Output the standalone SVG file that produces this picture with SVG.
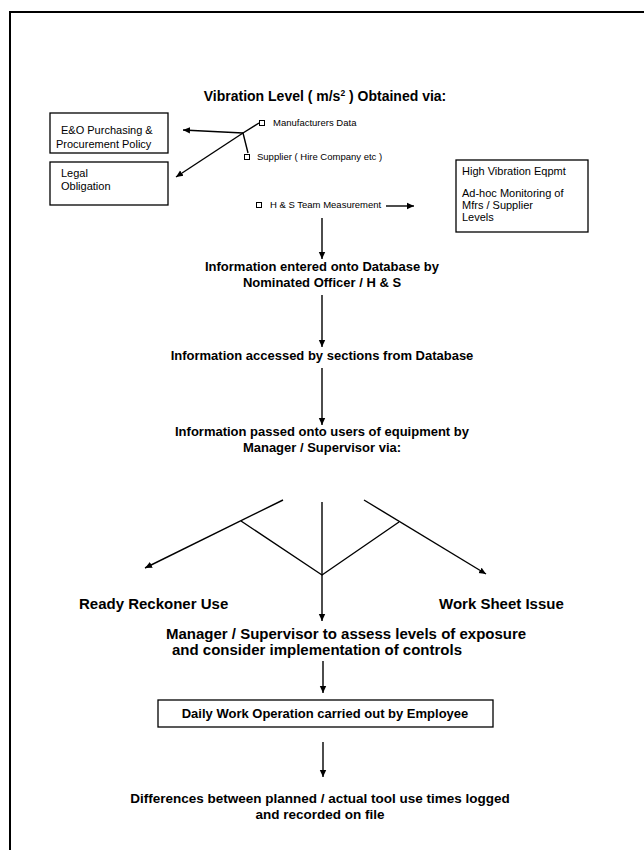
<svg xmlns="http://www.w3.org/2000/svg" width="644" height="850" viewBox="0 0 644 850">
<defs>
<marker id="ah" markerWidth="8" markerHeight="8" refX="7" refY="4" orient="auto" markerUnits="userSpaceOnUse">
<path d="M0,0.8 L7,4 L0,7.2 Z" fill="#000"/>
</marker>
<style>
.t{font-family:"Liberation Sans",Arial,sans-serif;font-weight:bold;fill:#000}
.h{font-size:13px;text-anchor:middle}
.m{font-size:13px}
.l{font-size:15px}
.s{font-size:11px;font-weight:normal}
.b{font-size:9.5px;font-weight:normal}
.box{fill:#fff;stroke:#000;stroke-width:1.3}
.ln{fill:none;stroke:#000;stroke-width:1.4}
.ar{fill:none;stroke:#000;stroke-width:1.4;marker-end:url(#ah)}
.bul{fill:#fff;stroke:#000;stroke-width:1}
</style>
</defs>
<rect x="0" y="0" width="644" height="850" fill="#fff"/>
<path d="M10,850 V12 H644" fill="none" stroke="#000" stroke-width="2"/>

<g id="title">
<text class="t h" style="font-size:14px" x="325" y="101">Vibration Level ( m/s<tspan font-size="8.5" dy="-5">2</tspan><tspan dy="5"> ) Obtained via:</tspan></text>
</g>

<g id="src-manufacturers">
<rect class="bul" x="259.5" y="120.5" width="5" height="5"/>
<text class="t b" x="273" y="126">Manufacturers Data</text>
</g>
<g id="src-supplier">
<rect class="bul" x="244.5" y="154.5" width="5" height="5"/>
<text class="t b" x="257" y="160">Supplier ( Hire Company etc )</text>
</g>
<g id="src-hs">
<rect class="bul" x="256.5" y="202.5" width="5" height="5"/>
<text class="t b" x="270" y="208">H &amp; S Team Measurement</text>
</g>

<g id="box-eo">
<rect class="box" x="50" y="113" width="118" height="40"/>
<text class="t s" x="61" y="134">E&amp;O Purchasing &amp;</text>
<text class="t s" x="56" y="148">Procurement Policy</text>
</g>
<g id="box-legal">
<rect class="box" x="50" y="162" width="118" height="43"/>
<text class="t s" x="61" y="177">Legal</text>
<text class="t s" x="61" y="190">Obligation</text>
</g>

<g id="box-high">
<rect class="box" x="456" y="160" width="132" height="72"/>
<text class="t s" x="462" y="175">High Vibration Eqpmt</text>
<text class="t s" x="462" y="197">Ad-hoc Monitoring of</text>
<text class="t s" x="462" y="209">Mfrs / Supplier</text>
<text class="t s" x="462" y="221">Levels</text>
</g>

<g id="step-entered">
<text class="t h" x="322" y="271">Information entered onto Database by</text>
<text class="t h" x="322" y="287">Nominated Officer / H &amp; S</text>
</g>
<g id="step-accessed">
<text class="t h" x="322" y="360">Information accessed by sections from Database</text>
</g>
<g id="step-passed">
<text class="t h" x="322" y="436">Information passed onto users of equipment by</text>
<text class="t h" x="322" y="452">Manager / Supervisor via:</text>
</g>
<g id="ready-reckoner">
<text class="t l" x="79" y="609">Ready Reckoner Use</text>
</g>
<g id="work-sheet">
<text class="t l" x="439" y="609">Work Sheet Issue</text>
</g>
<g id="step-assess">
<text class="t l" x="166" y="639">Manager / Supervisor to assess levels of exposure</text>
<text class="t l" x="172" y="655">and consider implementation of controls</text>
</g>
<g id="step-daily">
<rect class="box" x="158" y="700" width="335" height="27"/>
<text class="t h" x="325" y="718">Daily Work Operation carried out by Employee</text>
</g>
<g id="step-differences">
<text class="t h" style="font-size:13.5px" x="320" y="803">Differences between planned / actual tool use times logged</text>
<text class="t h" style="font-size:13.5px" x="320" y="819">and recorded on file</text>
</g>

<g id="connectors">
<path class="ln" d="M259,123 L243,133 L248,153"/>
<path class="ar" d="M243,133 L183,130"/>
<path class="ar" d="M243,133 L176,177"/>
<path class="ar" d="M386,206 L414,206"/>
<path class="ar" d="M322,218 L322,259"/>
<path class="ar" d="M322,295 L322,347"/>
<path class="ar" d="M322,368 L322,425"/>
<path class="ar" d="M283,500 L145,568"/>
<path class="ar" d="M364,500 L486,574"/>
<path class="ln" d="M241,521 L322,575 L399,522"/>
<path class="ar" d="M322,502 L322,621"/>
<path class="ar" d="M323,661 L323,693"/>
<path class="ar" d="M323,742 L323,777"/>
</g>
</svg>
